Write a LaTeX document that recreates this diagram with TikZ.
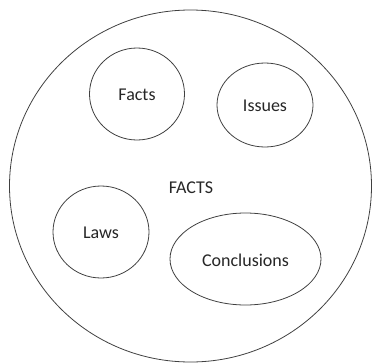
\documentclass[tikz,border=0pt]{standalone}
\usepackage{fontspec}
\setmainfont{Carlito}
\begin{document}
\begin{tikzpicture}[x=1pt,y=-1pt,
  ring/.style={draw=black!75,line width=0.8pt,ellipse},
  lbl/.style={font=\fontsize{18}{20}\selectfont,text=black!85}]
\useasboundingbox (0,0) rectangle (372,362);
\draw[draw=black!75,line width=0.8pt] (190.5,186) ellipse [x radius=181,y radius=176];
\draw[draw=black!75,line width=0.8pt] (137,94) ellipse [x radius=47.5,y radius=46];
\draw[draw=black!75,line width=0.8pt] (265,105) ellipse [x radius=48,y radius=42];
\draw[draw=black!75,line width=0.8pt] (101,232) ellipse [x radius=48,y radius=46];
\draw[draw=black!75,line width=0.8pt] (245.5,259) ellipse [x radius=75.5,y radius=46];
\node[lbl] (outer) at (191,188) {FACTS};
\node[lbl] (facts) at (137,95) {Facts};
\node[lbl] (issues) at (265,106) {Issues};
\node[lbl] (laws) at (101,233) {Laws};
\node[lbl] (concl) at (245.5,260) {Conclusions};
\end{tikzpicture}
\end{document}
